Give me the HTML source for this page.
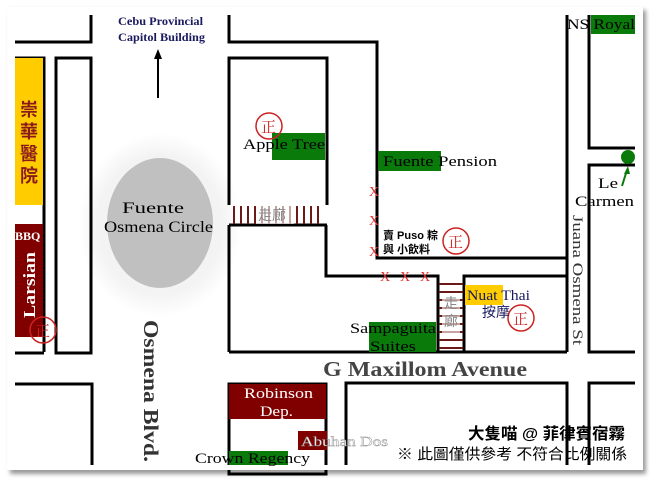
<!DOCTYPE html>
<html><head><meta charset="utf-8"><style>
html,body{margin:0;padding:0;background:#fff;}
svg{display:block;}
text{font-family:"Liberation Serif","Noto Serif CJK SC",serif;}
.cjk{font-family:"Liberation Sans","Noto Sans CJK TC",sans-serif;}
</style></head><body>
<svg width="650" height="479" viewBox="0 0 650 479" xmlns="http://www.w3.org/2000/svg">
<defs><filter id="sh" x="-5%" y="-5%" width="110%" height="110%"><feGaussianBlur stdDeviation="2"/></filter>
<radialGradient id="glow"><stop offset="0.75" stop-color="#f3f3f3"/><stop offset="1" stop-color="#fff"/></radialGradient></defs>
<rect x="10" y="10" width="636" height="464" fill="#999" filter="url(#sh)"/>
<rect x="7" y="7" width="636" height="463" fill="#fff"/>
<ellipse cx="160" cy="225" rx="82" ry="92" fill="url(#glow)"/>
<ellipse cx="160" cy="223" rx="53" ry="65" fill="#c0c0c0"/>
<g stroke="#000" stroke-width="3" fill="none">
<polyline points="15,42 91,42 91,15"/>
<polyline points="229,15 229,42 377,42 377,258 567,258"/>
<line x1="567" y1="15" x2="567" y2="352"/>
<polyline points="589,15 589,148 635,148"/>
<polyline points="635,165 589,165 589,352 635,352"/>
<polyline points="635,383 589,383 589,465"/>
<polyline points="346,465 346,383 567,383 567,465"/>
<polyline points="229,352 567,352"/>
<polyline points="464,352 464,276 567,276"/>
<polyline points="229,205 229,58 327,58 327,205"/>
<polyline points="229,225 327,225"/>
<line x1="229" y1="225" x2="229" y2="352"/>
<polyline points="326,225 326,276 438,276 438,352"/>
<polyline points="15,58 44,58 44,112 44,352"/>
<line x1="15" y1="353" x2="44" y2="353"/>
<rect x="56" y="58" width="35" height="295"/>
<polyline points="15,384 92,384 92,465"/>
<rect x="229" y="384" width="97" height="90"/>
</g>
<rect x="7" y="465" width="636" height="5" fill="#fff"/>
<g stroke="#6b1a1a" stroke-width="2">
<line x1="234" y1="206" x2="234" y2="224"/><line x1="241" y1="206" x2="241" y2="224"/><line x1="248" y1="206" x2="248" y2="224"/><line x1="255" y1="206" x2="255" y2="224"/><line x1="262" y1="206" x2="262" y2="224"/><line x1="269" y1="206" x2="269" y2="224"/><line x1="276" y1="206" x2="276" y2="224"/><line x1="283" y1="206" x2="283" y2="224"/><line x1="290" y1="206" x2="290" y2="224"/><line x1="297" y1="206" x2="297" y2="224"/><line x1="304" y1="206" x2="304" y2="224"/><line x1="311" y1="206" x2="311" y2="224"/><line x1="318" y1="206" x2="318" y2="224"/>
<line x1="439" y1="284" x2="463" y2="284"/><line x1="439" y1="292" x2="463" y2="292"/><line x1="439" y1="300" x2="463" y2="300"/><line x1="439" y1="308" x2="463" y2="308"/><line x1="439" y1="316" x2="463" y2="316"/><line x1="439" y1="324" x2="463" y2="324"/><line x1="439" y1="332" x2="463" y2="332"/><line x1="439" y1="340" x2="463" y2="340"/><line x1="439" y1="348" x2="463" y2="348"/>
</g>
<rect x="256" y="206" width="38" height="18" fill="#fff" opacity="0.6"/>
<text x="258" y="220" class="cjk" font-size="14" fill="#888">走廊</text>
<rect x="442" y="294" width="18" height="40" fill="#fff" opacity="0.6"/>
<text class="cjk" font-size="14" fill="#888"><tspan x="444" y="308">走</tspan><tspan x="444" y="326">廊</tspan></text>
<line x1="158" y1="98" x2="158" y2="58" stroke="#000" stroke-width="2"/>
<polygon points="158,49 154,59 162,59" fill="#000"/>
<text x="118" y="25" font-size="12" font-weight="bold" fill="#1a1a5e" textLength="85" lengthAdjust="spacingAndGlyphs">Cebu Provincial</text>
<text x="118" y="41" font-size="12" font-weight="bold" fill="#1a1a5e" textLength="87" lengthAdjust="spacingAndGlyphs">Capitol Building</text>
<rect x="15" y="58" width="28" height="147" fill="#ffcc00"/>
<text class="cjk" font-size="18" fill="#8b1a1a" font-weight="bold"><tspan x="20" y="116">崇</tspan><tspan x="20" y="138">華</tspan><tspan x="20" y="160">醫</tspan><tspan x="20" y="182">院</tspan></text>
<rect x="15" y="224" width="28" height="113" fill="#800000"/>
<text x="15" y="240" font-size="12" font-weight="bold" fill="#fff">BBQ</text>
<text transform="translate(35,318) rotate(-90)" font-size="17" font-weight="bold" fill="#fff" textLength="66" lengthAdjust="spacingAndGlyphs">Larsian</text>
<text x="122" y="213" font-size="16" fill="#000" textLength="62" lengthAdjust="spacingAndGlyphs">Fuente</text>
<text x="104" y="232" font-size="16" fill="#000" textLength="109" lengthAdjust="spacingAndGlyphs">Osmena Circle</text>
<text transform="translate(144,320) rotate(90)" font-size="21" font-weight="bold" fill="#333" textLength="142" lengthAdjust="spacingAndGlyphs">Osmena Blvd.</text>
<rect x="272" y="133" width="53" height="27" fill="#0a7a0a"/>
<text x="243" y="149" font-size="15" fill="#000" textLength="82" lengthAdjust="spacingAndGlyphs">Apple Tree</text>
<rect x="378" y="151" width="63" height="20" fill="#0a7a0a"/>
<text x="383" y="166" font-size="15" fill="#000" textLength="114" lengthAdjust="spacingAndGlyphs">Fuente Pension</text>
<g fill="#d33" font-size="14" font-family="Liberation Sans,sans-serif">
<text x="369" y="196">X</text><text x="369" y="225">X</text><text x="369" y="256">X</text>
<text x="380" y="281">X</text><text x="400" y="281">X</text><text x="420" y="281">X</text>
</g>
<text x="383" y="239" class="cjk" font-size="11" font-weight="bold" fill="#000">賣 Puso 粽</text>
<text x="383" y="253" class="cjk" font-size="11" font-weight="bold" fill="#000">與 小飲料</text>
<g fill="none" stroke="#c22" stroke-width="1.5">
<circle cx="269" cy="126" r="13"/><circle cx="456" cy="241" r="13"/><circle cx="521" cy="318" r="13"/><circle cx="43" cy="330" r="13"/>
</g>
<g class="cjk" font-size="15" fill="#c22"><text x="261" y="132">正</text><text x="448" y="247">正</text><text x="513" y="324">正</text><text x="35" y="336">正</text></g>
<rect x="465" y="285" width="38" height="20" fill="#ffcc00"/>
<text x="467" y="300" font-size="15" fill="#1a1a5e" textLength="63" lengthAdjust="spacingAndGlyphs">Nuat Thai</text>
<text x="482" y="317" class="cjk" font-size="14" fill="#1a1a5e">按摩</text>
<rect x="369" y="322" width="67" height="30" fill="#0a7a0a"/>
<text x="350" y="333" font-size="15" fill="#000" textLength="86" lengthAdjust="spacingAndGlyphs">Sampaguita</text>
<text x="370" y="351" font-size="15" fill="#000" textLength="46" lengthAdjust="spacingAndGlyphs">Suites</text>
<text x="323" y="376" font-size="21" font-weight="bold" fill="#444" textLength="204" lengthAdjust="spacingAndGlyphs">G Maxillom Avenue</text>
<text transform="translate(573,215) rotate(90)" font-size="15" fill="#333" textLength="130" lengthAdjust="spacingAndGlyphs">Juana Osmena St</text>
<rect x="591" y="15" width="44" height="19" fill="#0a7a0a"/>
<text x="567" y="29" font-size="15" fill="#000" textLength="68" lengthAdjust="spacingAndGlyphs">NS Royal</text>
<circle cx="628" cy="157" r="7" fill="#0a7a0a"/>
<line x1="622" y1="186" x2="627" y2="170" stroke="#0a7a0a" stroke-width="2"/>
<polygon points="628,166 624,174 630,174" fill="#0a7a0a"/>
<text x="598" y="188" font-size="15" fill="#000" textLength="20" lengthAdjust="spacingAndGlyphs">Le</text>
<text x="575" y="206" font-size="15" fill="#000" textLength="59" lengthAdjust="spacingAndGlyphs">Carmen</text>
<rect x="229" y="384" width="97" height="35" fill="#800000"/>
<text x="244" y="398" font-size="15" fill="#fff" textLength="69" lengthAdjust="spacingAndGlyphs">Robinson</text>
<text x="260" y="416" font-size="15" fill="#fff" textLength="33" lengthAdjust="spacingAndGlyphs">Dep.</text>
<rect x="298" y="431" width="29" height="19" fill="#800000"/>
<text x="301" y="446" font-size="14" fill="#fff" stroke="#888" stroke-width="0.4" textLength="87" lengthAdjust="spacingAndGlyphs">Abuhan Dos</text>
<rect x="229" y="451" width="59" height="14" fill="#0a7a0a"/>
<text x="195" y="463" font-size="15" fill="#000" textLength="115" lengthAdjust="spacingAndGlyphs">Crown Regency</text>
<text x="468" y="439" class="cjk" font-size="16" font-weight="bold" fill="#000" textLength="157" lengthAdjust="spacingAndGlyphs">大隻喵 @ 菲律賓宿霧</text>
<text x="397" y="459" class="cjk" font-size="15" fill="#000" textLength="230" lengthAdjust="spacingAndGlyphs">※ 此圖僅供參考 不符合比例關係</text>
</svg>
</body></html>
